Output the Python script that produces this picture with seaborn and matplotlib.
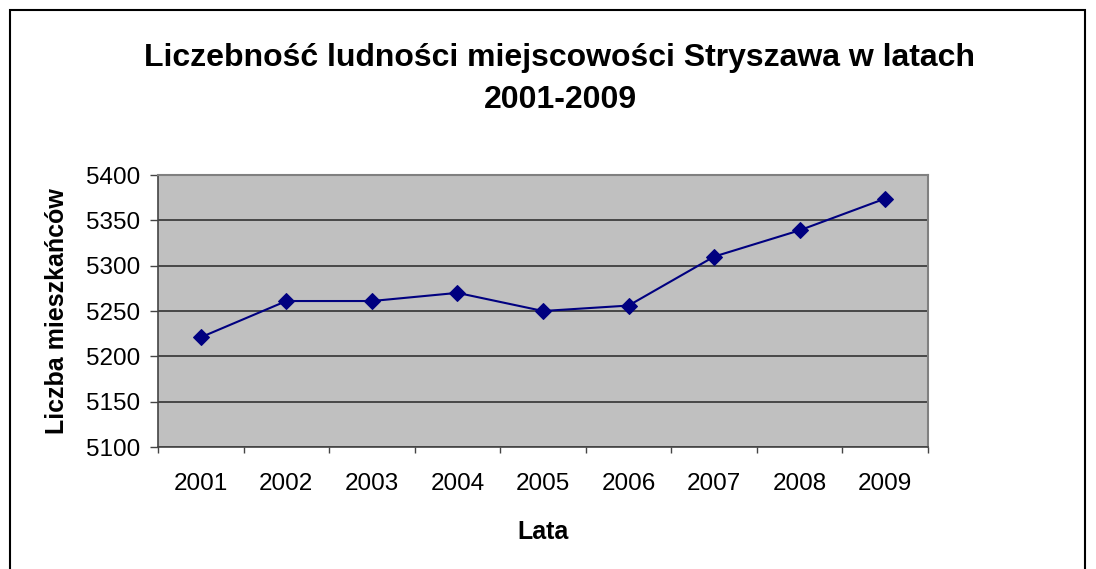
import matplotlib
matplotlib.use('Agg')
import matplotlib.pyplot as plt
import matplotlib.patches as mpatches
import seaborn as sns
import pandas as pd

years = ['2001', '2002', '2003', '2004', '2005', '2006', '2007', '2008', '2009']
population = [5221, 5261, 5261, 5270, 5250, 5256, 5310, 5339, 5374]
y_ticks = [5100, 5150, 5200, 5250, 5300, 5350, 5400]

sns.set_style('white')
plt.rcParams['font.family'] = ['Liberation Sans', 'DejaVu Sans']
plt.rcParams['text.color'] = 'black'
plt.rcParams['xtick.color'] = 'black'
plt.rcParams['ytick.color'] = 'black'
plt.rcParams['axes.labelcolor'] = 'black'

df = pd.DataFrame({'Lata': years, 'Liczba': population})
df['pos'] = range(len(years))

fig = plt.figure(figsize=(10.96, 5.69), dpi=100)
ax = fig.add_axes([158 / 1096, 1 - 447 / 569, (928 - 158) / 1096, (447 - 175) / 569])

# outer chart frame like in a spreadsheet
fig.patches.append(mpatches.Rectangle((10 / 1096, -0.05), (1085 - 10) / 1096, 1.05 - 10 / 569,
                                      transform=fig.transFigure, fill=False,
                                      edgecolor='black', linewidth=1.5))

ax.set_facecolor('#C0C0C0')
sns.lineplot(data=df, x='pos', y='Liczba', ax=ax, color='#000080', marker='D',
             markersize=8, markeredgecolor='#000080', linewidth=1.5)

ax.set_xlim(-0.5, len(years) - 0.5)
ax.set_ylim(5100, 5400)
ax.set_yticks(y_ticks)
ax.set_yticklabels([str(v) for v in y_ticks], fontsize=17.5)
ax.set_xticks(df['pos'])
ax.set_xticklabels(years, fontsize=17.5)
ax.set_xticks([i - 0.5 for i in range(len(years) + 1)], minor=True)
ax.tick_params(axis='x', which='major', length=0, pad=19)
ax.tick_params(axis='x', which='minor', length=4, width=1, color='#444444', direction='out', bottom=True)
ax.tick_params(axis='y', length=6, width=1, color='#444444', direction='out', left=True, pad=7)

ax.yaxis.grid(True, color='#333333', linewidth=1.2)
ax.xaxis.grid(False)
for side in ['top', 'right']:
    ax.spines[side].set_color('#808080')
    ax.spines[side].set_linewidth(1.5)
for side in ['left', 'bottom']:
    ax.spines[side].set_color('#444444')
    ax.spines[side].set_linewidth(1.2)

ax.set_xlabel('Lata', fontsize=18, fontweight='bold', labelpad=18)
ax.set_ylabel('Liczba mieszkańców', fontsize=18, fontweight='bold', labelpad=12)

fig.suptitle('Liczebność ludności miejscowości Stryszawa w latach\n2001-2009',
             x=560 / 1096, y=1 - 43 / 569, fontsize=23, fontweight='bold', linespacing=1.5)

fig.savefig('out.png', dpi=100)
